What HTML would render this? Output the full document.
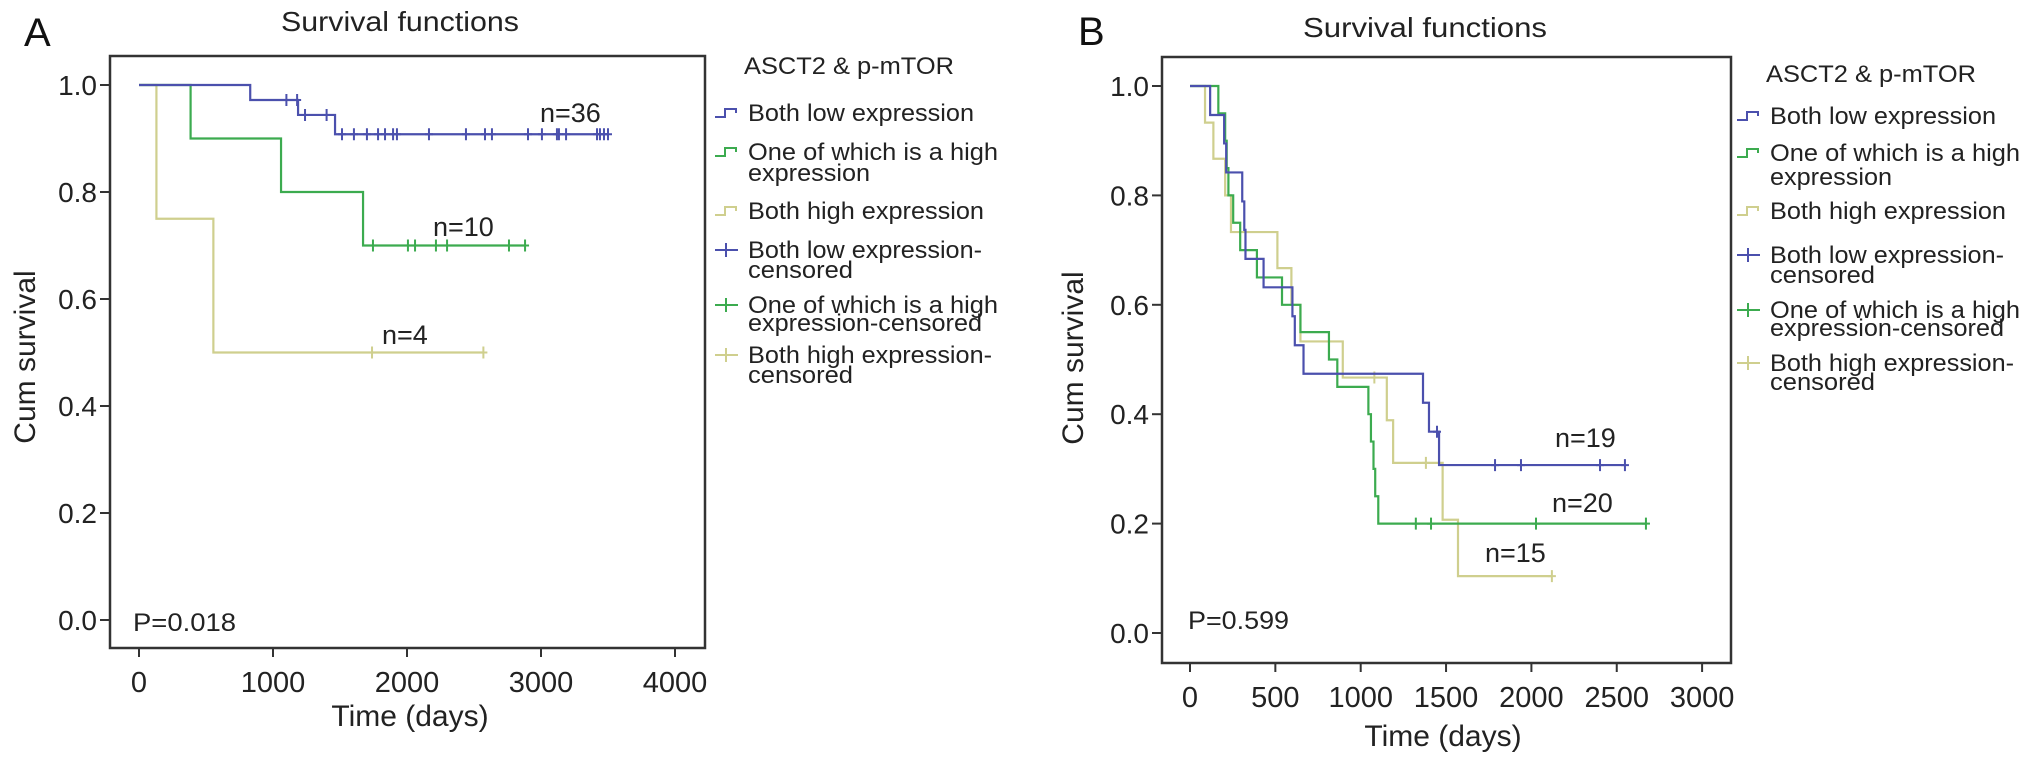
<!DOCTYPE html>
<html><head><meta charset="utf-8">
<style>
html,body{margin:0;padding:0;background:#fff;}
svg{display:block;font-family:"Liberation Sans",Arial,sans-serif;}
</style></head>
<body>
<svg id="fig" width="2032" height="765" viewBox="0 0 2032 765">
</svg>
<script>
// ---- Panel A data ----
const aYTicks=[0,0.2,0.4,0.6,0.8,1.0];
const aXTicks=[0,1000,2000,3000,4000];
const aLowT=[830,1187,1463];
const aLowS=[0.972,0.944,0.908];
const aLowEnd=3500;
const aLowCens=[1100,1180,1239,1400,1515,1604,1701,1784,1836,1896,1925,2164,2440,2582,2634,2903,3007,3119,3134,3187,3418,3440,3470,3500];
const aOneT=[385,1060,1672];
const aOneS=[0.9,0.8,0.7];
const aOneEnd=2881;
const aOneCens=[1746,2007,2060,2216,2299,2761,2881];
const aHighT=[130,555];
const aHighS=[0.75,0.5];
const aHighEnd=2570;
const aHighCens=[1739,2570];
// ---- Panel B data ----
const bYTicks=[0,0.2,0.4,0.6,0.8,1.0];
const bXTicks=[0,500,1000,1500,2000,2500,3000];
const bLowT=[118,200,212,306,318,325,431,600,614,665,1365,1400,1459];
const bLowS=[0.947,0.895,0.842,0.789,0.737,0.684,0.632,0.579,0.526,0.474,0.421,0.368,0.307];
const bLowEnd=2548;
const bLowCens=[1447,1787,1939,2402,2548];
const bOneT=[166,206,215,225,253,294,392,539,647,814,863,1045,1060,1075,1085,1103];
const bOneS=[0.95,0.9,0.85,0.8,0.75,0.7,0.65,0.6,0.55,0.5,0.45,0.4,0.35,0.3,0.25,0.2];
const bOneEnd=2671;
const bOneCens=[1323,1412,2027,2671];
const bHighT=[88,137,206,240,512,594,647,895,1153,1190,1480,1570];
const bHighS=[0.933,0.867,0.8,0.733,0.667,0.6,0.533,0.467,0.389,0.311,0.207,0.104];
const bHighEnd=2120;
const bHighCens=[1080,1382,2120];

const NS="http://www.w3.org/2000/svg";
const svg=document.getElementById('fig');
const C_LOW="#4b50ad", C_ONE="#3cab4f", C_HIGH="#cfcf8e", C_AX="#333";
function mk(tag,attrs,parent){const e=document.createElementNS(NS,tag);for(const k in attrs)e.setAttribute(k,attrs[k]);(parent||svg).appendChild(e);return e;}
function txt(s,attrs,parent){const e=mk('text',attrs,parent);e.textContent=s;return e;}

function panel(cfg){
  const g=mk('g',{});
  
  
  const X=d=>cfg.x0+d*cfg.kx, Y=s=>cfg.y0-s*cfg.ky;
  const box=mk('rect',{x:cfg.bx1,y:cfg.by1,width:cfg.bx2-cfg.bx1,height:cfg.by2-cfg.by1,fill:'none',stroke:C_AX,'stroke-width':2.5},g);
  
  
  cfg.yTicks.forEach(v=>{
    const t=mk('line',{x1:cfg.bx1-10,x2:cfg.bx1,y1:Y(v),y2:Y(v),stroke:C_AX,'stroke-width':2},g);
    
    
    const l=txt(v.toFixed(1),{x:cfg.bx1-13,y:Y(v)+10,'text-anchor':'end','font-size':28,fill:'#222'},g);
    
    
  });
  cfg.xTicks.forEach(v=>{
    const t=mk('line',{x1:X(v),x2:X(v),y1:cfg.by2,y2:cfg.by2+9,stroke:C_AX,'stroke-width':2},g);
    
    
    const l=txt(String(v),{x:X(v),y:cfg.by2+44,'text-anchor':'middle','font-size':29,fill:'#222'},g);
    
    
  });
  cfg.series.forEach(sr=>{
    let d=`M${X(0)},${Y(1)}`;
    sr.t.forEach((t,i)=>{d+=` H${X(t)} V${Y(sr.s[i])}`;});
    d+=` H${X(sr.end)}`;
    const p=mk('path',{d:d,fill:'none',stroke:sr.c,'stroke-width':2.2},g);
    
    
    sr.cens.forEach(ct=>{
      let sv=1;sr.t.forEach((t,i)=>{if(t<=ct)sv=sr.s[i];});
      const m=mk('path',{d:`M${X(ct)},${Y(sv)-6} V${Y(sv)+6} M${X(ct)-4},${Y(sv)} H${X(ct)+4}`,stroke:sr.c,'stroke-width':2},g);
      
      
    });
  });
  return g;
}

panel({name:'panel-a',x0:139,kx:0.134,y0:620,ky:535,bx1:110,bx2:705,by1:56,by2:648,yTicks:aYTicks,xTicks:aXTicks,
 series:[{name:'both-high',c:C_HIGH,t:aHighT,s:aHighS,end:aHighEnd,cens:aHighCens},
 {name:'one-high',c:C_ONE,t:aOneT,s:aOneS,end:aOneEnd,cens:aOneCens},
 {name:'both-low',c:C_LOW,t:aLowT,s:aLowS,end:aLowEnd,cens:aLowCens}]});
panel({name:'panel-b',x0:1190,kx:0.1707,y0:633,ky:547,bx1:1162,bx2:1731,by1:57,by2:663,yTicks:bYTicks,xTicks:bXTicks,
 series:[{name:'both-high',c:C_HIGH,t:bHighT,s:bHighS,end:bHighEnd,cens:bHighCens},
 {name:'one-high',c:C_ONE,t:bOneT,s:bOneS,end:bOneEnd,cens:bOneCens},
 {name:'both-low',c:C_LOW,t:bLowT,s:bLowS,end:bLowEnd,cens:bLowCens}]});

function legend(x,ys,title,ty,name){
  const g=mk('g',{});
  
  
  txt(title,{x:x+26,y:ty+9,'font-size':24,fill:'#222',textLength:210,lengthAdjust:'spacingAndGlyphs'},g);
  const items=[
   {c:C_LOW,step:true,l:['Both low expression'],w:[226]},
   {c:C_ONE,step:true,l:['One of which is a high','expression'],w:[250,122]},
   {c:C_HIGH,step:true,l:['Both high expression'],w:[236]},
   {c:C_LOW,step:false,l:['Both low expression-','censored'],w:[234,105]},
   {c:C_ONE,step:false,l:['One of which is a high','expression-censored'],w:[250,234]},
   {c:C_HIGH,step:false,l:['Both high expression-','censored'],w:[244,105]}];
  items.forEach((it,i)=>{
    const y0=ys[i][0];
    const sym=it.step?`M${x-3},${y0+4} H${x+7} V${y0-4} H${x+18} V${y0}`:`M${x-3},${y0} H${x+20} M${x+8},${y0-7} V${y0+7}`;
    const s=mk('path',{d:sym,fill:'none',stroke:it.c,'stroke-width':2},g);
    
    
    it.l.forEach((line,j)=>{
      const t=txt(line,{x:x+30,y:ys[i][j]+8,'font-size':24,fill:'#222',textLength:it.w[j],lengthAdjust:'spacingAndGlyphs'},g);
      
      
    });
  });
}
legend(718,[[113],[152,173],[211],[250,270],[305,323],[355,375]],'ASCT2 & p-mTOR',65,'legend-a');
legend(1740,[[116],[153,177],[211],[255,275],[310,328],[363,382]],'ASCT2 & p-mTOR',73,'legend-b');

function label(s,a,name){const t=txt(s,a);return t;}
label('A',{x:24,y:46,'font-size':40,fill:'#111'},'panel-a-letter');
label('B',{x:1078,y:45,'font-size':40,fill:'#111'},'panel-b-letter');
label('Survival functions',{x:400,y:31,'font-size':28,'text-anchor':'middle',fill:'#222',textLength:238,lengthAdjust:'spacingAndGlyphs'},'panel-a-title');
label('Survival functions',{x:1425,y:37,'font-size':28,'text-anchor':'middle',fill:'#222',textLength:244,lengthAdjust:'spacingAndGlyphs'},'panel-b-title');
label('Cum survival',{x:0,y:0,'font-size':30,'text-anchor':'middle',fill:'#222',transform:'translate(35,357) rotate(-90)'},'panel-a-y-axis-title');
label('Cum survival',{x:0,y:0,'font-size':30,'text-anchor':'middle',fill:'#222',transform:'translate(1083,358) rotate(-90)'},'panel-b-y-axis-title');
label('Time (days)',{x:410,y:726,'font-size':30,'text-anchor':'middle',fill:'#222'},'panel-a-x-axis-title');
label('Time (days)',{x:1443,y:746,'font-size':30,'text-anchor':'middle',fill:'#222'},'panel-b-x-axis-title');
label('P=0.018',{x:133,y:631,'font-size':25,fill:'#222',textLength:103,lengthAdjust:'spacingAndGlyphs'},'panel-a-p-value');
label('P=0.599',{x:1188,y:629,'font-size':25,fill:'#222',textLength:101,lengthAdjust:'spacingAndGlyphs'},'panel-b-p-value');
label('n=36',{x:540,y:122,'font-size':27,fill:'#222'},'n-label-a-low');
label('n=10',{x:433,y:236,'font-size':27,fill:'#222'},'n-label-a-one');
label('n=4',{x:382,y:344,'font-size':27,fill:'#222'},'n-label-a-high');
label('n=19',{x:1555,y:447,'font-size':27,fill:'#222'},'n-label-b-low');
label('n=20',{x:1552,y:512,'font-size':27,fill:'#222'},'n-label-b-one');
label('n=15',{x:1485,y:562,'font-size':27,fill:'#222'},'n-label-b-high');
</script>
</body></html>
